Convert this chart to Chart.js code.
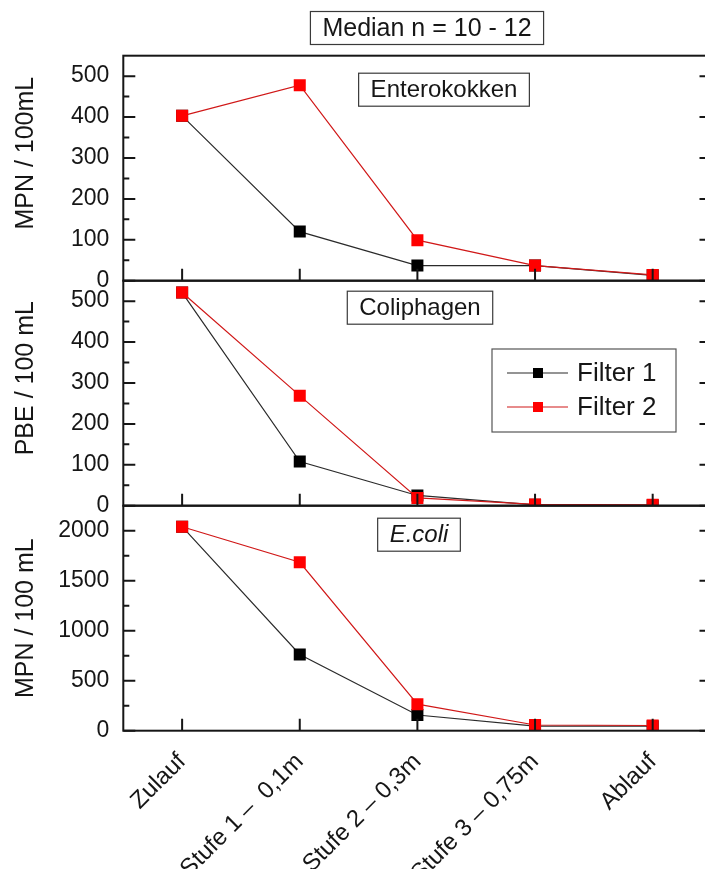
<!DOCTYPE html>
<html>
<head>
<meta charset="utf-8">
<script src="https://cdn.jsdelivr.net/npm/chart.js@4/dist/chart.umd.min.js"></script>
<style>
  html, body { margin: 0; padding: 0; background: #fff; overflow: hidden; }
  #wrap { position: relative; width: 705px; height: 869px; overflow: hidden; }
  #chart { position: absolute; left: 0; top: 0; }
</style>
</head>
<body>
<div id="wrap"><canvas id="chart" width="720" height="900"></canvas></div>
<script>
const stations = ["Zulauf", "Stufe 1 –  0,1m", "Stufe 2 – 0,3m", "Stufe 3 – 0,75m", "Ablauf"];

const enteroFilter1 = [403, 120, 37, 37, 13];
const enteroFilter2 = [403, 478, 99, 37, 14];
const coliFilter1 = [521, 108, 25, 2, 1];
const coliFilter2 = [521, 269, 19, 3, 2];
const ecoliFilter1 = [2040, 762, 157, 45, 45];
const ecoliFilter2 = [2040, 1684, 265, 57, 52];

const enteroTicks = [0, 100, 200, 300, 400, 500];
const coliTicks = [0, 100, 200, 300, 400, 500];
const ecoliTicks = [0, 500, 1000, 1500, 2000];

const seriesNames = ["Filter 1", "Filter 2"];
const panelNames = ["Enterokokken", "Coliphagen", "E.coli"];
const axisTitles = ["MPN / 100mL", "PBE / 100 mL", "MPN / 100 mL"];
const headline = "Median n = 10 - 12";

const FONT = '"Liberation Sans", Arial, sans-serif';
const INK = "#161616";
const CANVAS_H = 900;
const PLOT_TOP = 55.7;
const PLOT_BOTTOM = 730.7;
const PLOT_LEFT = 123.3;
const PLOT_RIGHT = 712.6;

function series(label, data, axis, red) {
  return {
    label: label,
    data: data,
    yAxisID: axis,
    borderColor: red ? "#d01818" : "#2b2b2b",
    borderWidth: 1.2,
    pointStyle: "rect",
    pointRadius: 8.5,
    pointHoverRadius: 8.5,
    pointBorderWidth: 0,
    pointBackgroundColor: red ? "#ff0000" : "#000000",
    order: red ? 0 : 1,
    tension: 0
  };
}

function yAxis(tickValues, max) {
  return {
    type: "linear",
    position: "left",
    stack: "panels",
    stackWeight: 1,
    min: 0,
    max: max,
    grid: { display: false },
    border: { display: false },
    afterBuildTicks: scale => { scale.ticks = tickValues.map(v => ({ value: v })); },
    afterFit: scale => { scale.width = PLOT_LEFT; },
    ticks: {
      autoSkip: false,
      color: INK,
      padding: 6,
      font: { family: FONT, size: 23 },
      callback: value => String(value)
    }
  };
}

// keep each series inside its own panel
const panelClip = {
  id: "panelClip",
  beforeDatasetDraw(chart, args) {
    const { ctx, chartArea } = chart;
    const ys = args.meta.yScale;
    ctx.save();
    ctx.beginPath();
    ctx.rect(chartArea.left, ys.top, chartArea.right - chartArea.left, ys.bottom - ys.top);
    ctx.clip();
  },
  afterDatasetDraw(chart) {
    chart.ctx.restore();
  }
};

// panel frames with inward major/minor ticks, plus the rotated axis titles
const frame = {
  id: "frame",
  afterDatasetsDraw(chart) {
    const { ctx, chartArea: a, scales } = chart;
    const panels = [
      ["yEntero", enteroTicks, axisTitles[0], -15],
      ["yColi", coliTicks, axisTitles[1], -15],
      ["yEcoli", ecoliTicks, axisTitles[2], 0]
    ];
    ctx.save();
    ctx.strokeStyle = INK;
    ctx.lineWidth = 2;
    panels.forEach(([id, values, title, shift]) => {
      const s = scales[id];
      ctx.strokeRect(a.left, s.top, a.right - a.left, s.bottom - s.top);
      const step = values[1] - values[0];
      const minors = values.map(v => v + step / 2).filter(v => v < s.max);
      ctx.beginPath();
      values.forEach(v => {
        const y = s.getPixelForValue(v);
        ctx.moveTo(a.left, y); ctx.lineTo(a.left + 12, y);
        ctx.moveTo(a.right, y); ctx.lineTo(a.right - 12, y);
      });
      minors.forEach(v => {
        const y = s.getPixelForValue(v);
        ctx.moveTo(a.left, y); ctx.lineTo(a.left + 6, y);
        ctx.moveTo(a.right, y); ctx.lineTo(a.right - 6, y);
      });
      stations.forEach((_, i) => {
        const x = scales.x.getPixelForValue(i);
        ctx.moveTo(x, s.bottom); ctx.lineTo(x, s.bottom - 12);
      });
      ctx.stroke();

      ctx.save();
      ctx.translate(26, (s.top + s.bottom) / 2 + shift);
      ctx.rotate(-Math.PI / 2);
      ctx.font = "25px " + FONT;
      ctx.fillStyle = INK;
      ctx.textAlign = "center";
      ctx.textBaseline = "middle";
      ctx.fillText(title, 0, 0);
      ctx.restore();
    });
    ctx.restore();
  }
};

function labelBox(ctx, text, cx, cy, font) {
  ctx.font = font;
  const w = ctx.measureText(text).width + 24;
  const h = 33;
  ctx.fillStyle = "#fff";
  ctx.fillRect(cx - w / 2, cy - h / 2, w, h);
  ctx.strokeStyle = "#3a3a3a";
  ctx.lineWidth = 1.2;
  ctx.strokeRect(cx - w / 2, cy - h / 2, w, h);
  ctx.fillStyle = INK;
  ctx.textAlign = "center";
  ctx.textBaseline = "middle";
  ctx.fillText(text, cx, cy + 1);
}

// headline, panel names and the legend
const notes = {
  id: "notes",
  afterDraw(chart) {
    const { ctx, scales } = chart;
    ctx.save();
    labelBox(ctx, headline, 427, 28, "25px " + FONT);
    labelBox(ctx, panelNames[0], 444, scales.yEntero.top + 34, "24px " + FONT);
    labelBox(ctx, panelNames[1], 420, scales.yColi.top + 27, "24px " + FONT);
    labelBox(ctx, panelNames[2], 419, scales.yEcoli.top + 29, "italic 24px " + FONT);

    const lx = 492, ly = 349, lw = 184, lh = 83;
    ctx.fillStyle = "#fff";
    ctx.fillRect(lx, ly, lw, lh);
    ctx.strokeStyle = "#555";
    ctx.lineWidth = 1.2;
    ctx.strokeRect(lx, ly, lw, lh);
    ctx.font = "26px " + FONT;
    ctx.textAlign = "left";
    ctx.textBaseline = "middle";
    chart.data.datasets.slice(0, 2).forEach((ds, i) => {
      const y = ly + 24 + i * 34;
      ctx.strokeStyle = ds.borderColor;
      ctx.lineWidth = 1.2;
      ctx.beginPath();
      ctx.moveTo(lx + 15, y); ctx.lineTo(lx + 76, y);
      ctx.stroke();
      ctx.fillStyle = ds.pointBackgroundColor;
      ctx.fillRect(lx + 41, y - 5, 10, 10);
      ctx.fillStyle = INK;
      ctx.fillText(ds.label, lx + 85, y + 1);
    });
    ctx.restore();
  }
};

new Chart(document.getElementById("chart").getContext("2d"), {
  type: "line",
  data: {
    labels: stations,
    datasets: [
      series(seriesNames[0], enteroFilter1, "yEntero", false),
      series(seriesNames[1], enteroFilter2, "yEntero", true),
      series(seriesNames[0], coliFilter1, "yColi", false),
      series(seriesNames[1], coliFilter2, "yColi", true),
      series(seriesNames[0], ecoliFilter1, "yEcoli", false),
      series(seriesNames[1], ecoliFilter2, "yEcoli", true)
    ]
  },
  options: {
    responsive: false,
    animation: false,
    devicePixelRatio: 1,
    layout: { padding: { top: PLOT_TOP, right: 720 - PLOT_RIGHT, left: 0, bottom: 0 } },
    plugins: { legend: { display: false }, tooltip: { enabled: false } },
    scales: {
      x: {
        type: "category",
        offset: true,
        grid: { display: false },
        border: { display: false },
        afterFit: scale => { scale.height = CANVAS_H - PLOT_BOTTOM; },
        ticks: {
          autoSkip: false,
          maxRotation: 45,
          minRotation: 45,
          padding: 9,
          color: INK,
          font: { family: FONT, size: 24 }
        }
      },
      yEcoli: yAxis(ecoliTicks, 2250),
      yColi: yAxis(coliTicks, 550),
      yEntero: yAxis(enteroTicks, 550)
    }
  },
  plugins: [panelClip, frame, notes]
});
</script>
</body>
</html>
